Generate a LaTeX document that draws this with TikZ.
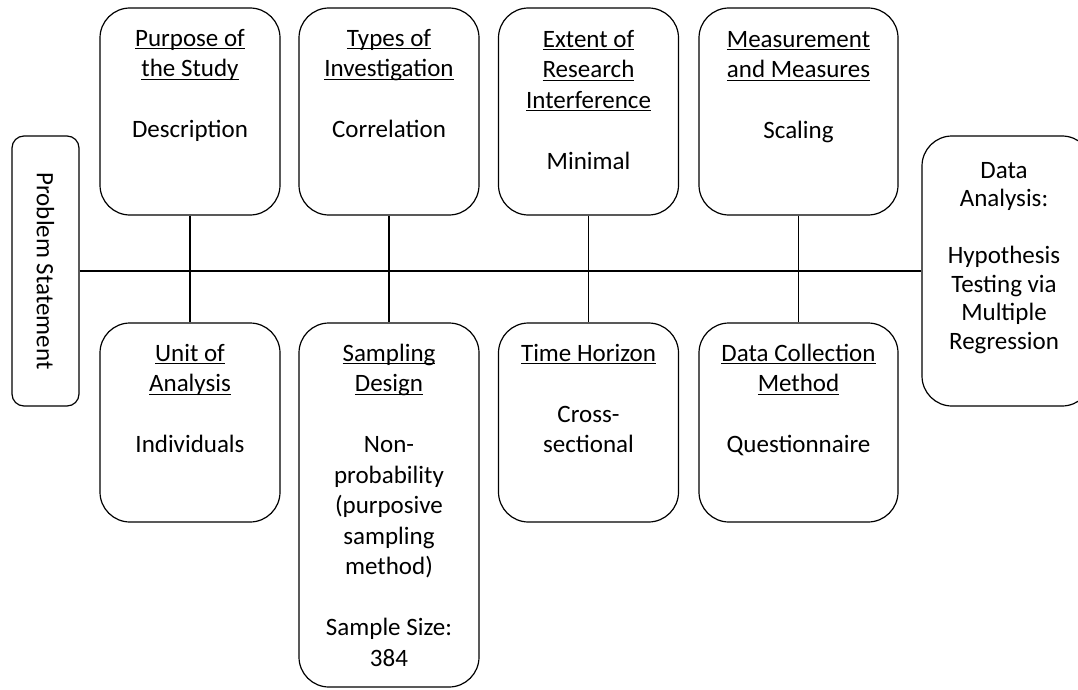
\documentclass[tikz,border=0pt]{standalone}
\usepackage{fontspec}
\setmainfont{Carlito}
\newlength\ulwd
\newcommand\myul[1]{\settowidth\ulwd{#1}\rlap{\rule[-3pt]{\ulwd}{1.1pt}}#1}
\begin{document}
\begin{tikzpicture}[x=1pt,y=-1pt,
  box/.style={draw, line width=1.2pt, rounded corners=30pt, inner sep=0pt},
  conn/.style={line width=1.2pt},
  txt/.style={anchor=north, align=center, inner sep=0pt, font=\fontsize{25}{30.5}\selectfont}]
\useasboundingbox (0,0) rectangle (1078,690);
% boxes
\node[box, rounded corners=12pt, minimum width=67pt, minimum height=270pt] (problem) at (45.5,271) {};
\node[box, minimum width=180pt, minimum height=207pt] (purpose) at (190,111.5) {};
\node[box, minimum width=180pt, minimum height=207pt] (types) at (389,111.5) {};
\node[box, minimum width=180pt, minimum height=207pt] (extent) at (588.5,111.5) {};
\node[box, minimum width=199pt, minimum height=207pt] (measure) at (798.5,111.5) {};
\node[box, minimum width=180pt, minimum height=199pt] (unit) at (190,422.5) {};
\node[box, minimum width=180pt, minimum height=364pt] (sampling) at (389,505) {};
\node[box, minimum width=180pt, minimum height=199pt] (time) at (588.5,422.5) {};
\node[box, minimum width=199pt, minimum height=199pt] (collect) at (798.5,422.5) {};
\node[box, minimum width=170pt, minimum height=270pt] (analysis) at (1007,271) {};
% texts
\node[txt, rotate=-90, anchor=center] (tproblem) at (problem.center) {Problem Statement};
\node[txt] (tpurpose) at (190,24.6) {\strut\myul{Purpose of}\\ \myul{the Study}\\[30.5pt] Description};
\node[txt] (ttypes) at (389,24.6) {\strut\myul{Types of}\\ \myul{Investigation}\\[30.5pt] Correlation};
\node[txt] (textent) at (588.5,25.6) {\strut\myul{Extent of}\\ \myul{Research}\\ \myul{Interference}\\[30.5pt] Minimal};
\node[txt] (tmeasure) at (798.5,25.6) {\strut\myul{Measurement}\\ \myul{and Measures}\\[30.5pt] Scaling};
\node[txt] (tunit) at (190,339.6) {\strut\myul{Unit of}\\ \myul{Analysis}\\[30.5pt] Individuals};
\node[txt] (tsampling) at (389,339.6) {\strut\myul{Sampling}\\ \myul{Design}\\[30.5pt] Non-\\ probability\\ (purposive\\ sampling\\ method)\\[30.5pt] Sample Size:\\ 384};
\node[txt] (ttime) at (588.5,339.6) {\strut\myul{Time Horizon}\\[30.5pt] Cross-\\ sectional};
\node[txt] (tcollect) at (798.5,339.6) {\strut\myul{Data Collection}\\ \myul{Method}\\[30.5pt] Questionnaire};
\node[txt, font=\fontsize{25}{28.5}\selectfont] (tanalysis) at (1004,158) {\strut Data\\ Analysis:\\[28.5pt] Hypothesis\\ Testing via\\ Multiple\\ Regression};
% connectors
\draw[conn] (problem.east) -- (analysis.west);
\draw[conn] (purpose.south) -- (unit.north);
\draw[conn] (types.south) -- (sampling.north);
\draw[conn] (extent.south) -- (time.north);
\draw[conn] (measure.south) -- (collect.north);
\end{tikzpicture}
\end{document}
